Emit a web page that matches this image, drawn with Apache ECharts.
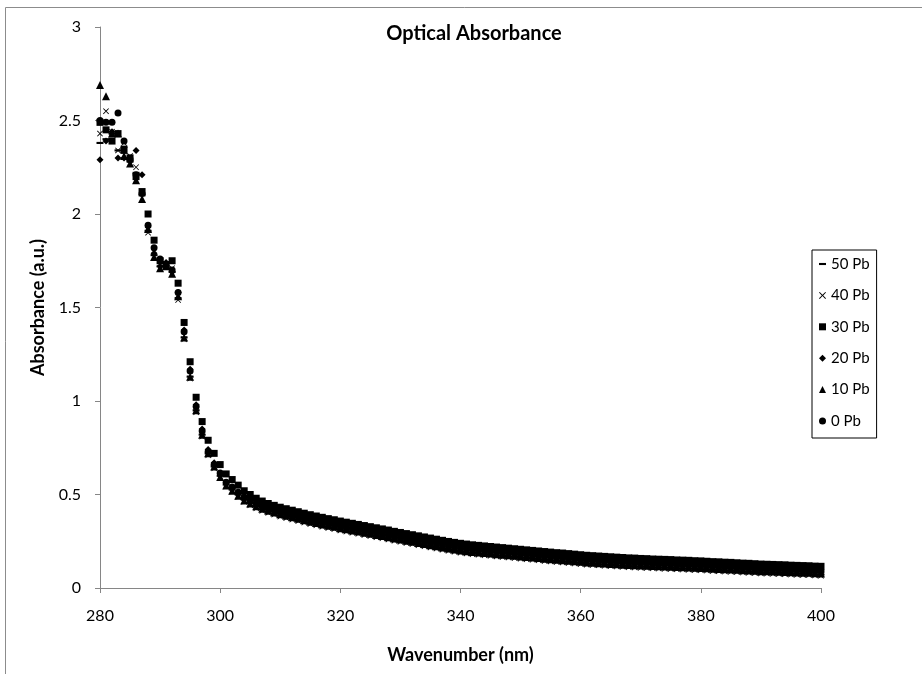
<!DOCTYPE html>
<html>
<head>
<meta charset="utf-8">
<script src="https://cdn.jsdelivr.net/npm/echarts@6/dist/echarts.min.js"></script>
<style>
  html, body { margin: 0; padding: 0; background: #fff; }
  #chart { width: 922px; height: 674px; }
</style>
</head>
<body>
<div id="chart"></div>
<script>
// Wavelength (nm), one reading per nm
const wavelength = [
  280, 281, 282, 283, 284, 285, 286, 287, 288, 289, 290, 291, 292, 293, 294, 295, 296, 297, 298, 299,
  300, 301, 302, 303, 304, 305, 306, 307, 308, 309, 310, 311, 312, 313, 314, 315, 316, 317, 318, 319,
  320, 321, 322, 323, 324, 325, 326, 327, 328, 329, 330, 331, 332, 333, 334, 335, 336, 337, 338, 339,
  340, 341, 342, 343, 344, 345, 346, 347, 348, 349, 350, 351, 352, 353, 354, 355, 356, 357, 358, 359,
  360, 361, 362, 363, 364, 365, 366, 367, 368, 369, 370, 371, 372, 373, 374, 375, 376, 377, 378, 379,
  380, 381, 382, 383, 384, 385, 386, 387, 388, 389, 390, 391, 392, 393, 394, 395, 396, 397, 398, 399,
  400
];

// Absorbance per sample
const pb50 = [
  2.38, 2.40, 2.43, 2.34, 2.36, 2.28, 2.22, 2.10, 1.91, 1.78, 1.72, 1.71, 1.69, 1.55, 1.34, 1.13, 0.95, 0.82, 0.72, 0.65,
  0.600, 0.553, 0.526, 0.499, 0.472, 0.455, 0.436, 0.421, 0.408, 0.398, 0.388, 0.380, 0.372, 0.364, 0.356, 0.348, 0.341, 0.334, 0.327, 0.321,
  0.314, 0.308, 0.302, 0.296, 0.290, 0.284, 0.278, 0.272, 0.266, 0.259, 0.253, 0.247, 0.241, 0.235, 0.229, 0.223, 0.217, 0.211, 0.205, 0.200,
  0.195, 0.191, 0.187, 0.184, 0.181, 0.178, 0.175, 0.172, 0.169, 0.166, 0.163, 0.160, 0.157, 0.154, 0.151, 0.148, 0.145, 0.143, 0.140, 0.137,
  0.134, 0.131, 0.129, 0.127, 0.125, 0.123, 0.121, 0.119, 0.117, 0.116, 0.114, 0.113, 0.111, 0.110, 0.109, 0.108, 0.106, 0.105, 0.104, 0.102,
  0.101, 0.099, 0.097, 0.096, 0.094, 0.093, 0.091, 0.089, 0.088, 0.086, 0.084, 0.083, 0.082, 0.081, 0.080, 0.078, 0.077, 0.076, 0.075, 0.073,
  0.072
];
const pb40 = [
  2.43, 2.55, 2.44, 2.34, 2.38, 2.31, 2.25, 2.12, 1.90, 1.80, 1.75, 1.73, 1.71, 1.54, 1.33, 1.12, 0.94, 0.81, 0.71, 0.64,
  0.588, 0.543, 0.515, 0.487, 0.461, 0.443, 0.426, 0.413, 0.402, 0.393, 0.382, 0.374, 0.366, 0.358, 0.350, 0.342, 0.335, 0.328, 0.321, 0.315,
  0.308, 0.302, 0.296, 0.290, 0.284, 0.278, 0.272, 0.266, 0.260, 0.253, 0.247, 0.241, 0.235, 0.229, 0.223, 0.217, 0.211, 0.205, 0.199, 0.194,
  0.189, 0.185, 0.181, 0.178, 0.175, 0.172, 0.169, 0.166, 0.163, 0.160, 0.157, 0.154, 0.151, 0.148, 0.145, 0.142, 0.139, 0.137, 0.134, 0.131,
  0.128, 0.125, 0.123, 0.121, 0.119, 0.117, 0.115, 0.113, 0.111, 0.110, 0.108, 0.107, 0.105, 0.104, 0.103, 0.102, 0.100, 0.099, 0.098, 0.096,
  0.095, 0.093, 0.091, 0.090, 0.088, 0.087, 0.085, 0.083, 0.082, 0.080, 0.078, 0.077, 0.076, 0.075, 0.074, 0.072, 0.071, 0.070, 0.069, 0.067,
  0.066
];
const pb30 = [
  2.49, 2.45, 2.39, 2.43, 2.34, 2.30, 2.20, 2.12, 2.00, 1.86, 1.75, 1.73, 1.75, 1.63, 1.42, 1.21, 1.02, 0.89, 0.79, 0.72,
  0.660, 0.610, 0.580, 0.550, 0.520, 0.500, 0.480, 0.465, 0.452, 0.442, 0.432, 0.424, 0.416, 0.408, 0.400, 0.392, 0.385, 0.378, 0.371, 0.365,
  0.358, 0.352, 0.346, 0.340, 0.334, 0.328, 0.322, 0.316, 0.310, 0.303, 0.297, 0.291, 0.285, 0.279, 0.273, 0.267, 0.261, 0.255, 0.249, 0.244,
  0.239, 0.235, 0.231, 0.228, 0.225, 0.222, 0.219, 0.216, 0.213, 0.210, 0.207, 0.204, 0.201, 0.198, 0.195, 0.192, 0.189, 0.187, 0.184, 0.181,
  0.178, 0.175, 0.173, 0.171, 0.169, 0.167, 0.165, 0.163, 0.161, 0.160, 0.158, 0.157, 0.155, 0.154, 0.153, 0.152, 0.150, 0.149, 0.148, 0.146,
  0.145, 0.143, 0.141, 0.140, 0.138, 0.137, 0.135, 0.133, 0.132, 0.130, 0.128, 0.127, 0.126, 0.125, 0.124, 0.122, 0.121, 0.120, 0.119, 0.117,
  0.116
];
const pb20 = [
  2.29, 2.39, 2.44, 2.30, 2.30, 2.30, 2.34, 2.21, 1.93, 1.79, 1.72, 1.74, 1.69, 1.58, 1.38, 1.17, 0.98, 0.85, 0.74, 0.67,
  0.612, 0.562, 0.533, 0.505, 0.478, 0.462, 0.445, 0.432, 0.420, 0.410, 0.400, 0.392, 0.384, 0.376, 0.368, 0.360, 0.353, 0.346, 0.339, 0.333,
  0.326, 0.320, 0.314, 0.308, 0.302, 0.296, 0.290, 0.284, 0.278, 0.271, 0.265, 0.259, 0.253, 0.247, 0.241, 0.235, 0.229, 0.223, 0.217, 0.212,
  0.207, 0.203, 0.199, 0.196, 0.193, 0.190, 0.187, 0.184, 0.181, 0.178, 0.175, 0.172, 0.169, 0.166, 0.163, 0.160, 0.157, 0.155, 0.152, 0.149,
  0.146, 0.143, 0.141, 0.139, 0.137, 0.135, 0.133, 0.131, 0.129, 0.128, 0.126, 0.125, 0.123, 0.122, 0.121, 0.120, 0.118, 0.117, 0.116, 0.114,
  0.113, 0.111, 0.109, 0.108, 0.106, 0.105, 0.103, 0.101, 0.100, 0.098, 0.096, 0.095, 0.094, 0.093, 0.092, 0.090, 0.089, 0.088, 0.087, 0.085,
  0.084
];
const pb10 = [
  2.69, 2.63, 2.43, 2.43, 2.31, 2.27, 2.18, 2.08, 1.92, 1.77, 1.71, 1.72, 1.68, 1.56, 1.34, 1.13, 0.95, 0.82, 0.72, 0.65,
  0.594, 0.548, 0.520, 0.493, 0.468, 0.452, 0.437, 0.424, 0.413, 0.404, 0.394, 0.386, 0.378, 0.370, 0.362, 0.354, 0.347, 0.340, 0.333, 0.327,
  0.320, 0.314, 0.308, 0.302, 0.296, 0.290, 0.284, 0.278, 0.272, 0.265, 0.259, 0.253, 0.247, 0.241, 0.235, 0.229, 0.223, 0.217, 0.211, 0.206,
  0.201, 0.197, 0.193, 0.190, 0.187, 0.184, 0.181, 0.178, 0.175, 0.172, 0.169, 0.166, 0.163, 0.160, 0.157, 0.154, 0.151, 0.149, 0.146, 0.143,
  0.140, 0.137, 0.135, 0.133, 0.131, 0.129, 0.127, 0.125, 0.123, 0.122, 0.120, 0.119, 0.117, 0.116, 0.115, 0.114, 0.112, 0.111, 0.110, 0.108,
  0.107, 0.105, 0.103, 0.102, 0.100, 0.099, 0.097, 0.095, 0.094, 0.092, 0.090, 0.089, 0.088, 0.087, 0.086, 0.084, 0.083, 0.082, 0.081, 0.079,
  0.078
];
const pb0 = [
  2.50, 2.49, 2.49, 2.54, 2.39, 2.29, 2.21, 2.11, 1.94, 1.82, 1.76, 1.72, 1.70, 1.58, 1.37, 1.16, 0.97, 0.84, 0.73, 0.66,
  0.615, 0.566, 0.540, 0.512, 0.486, 0.470, 0.452, 0.438, 0.426, 0.417, 0.407, 0.399, 0.391, 0.383, 0.375, 0.367, 0.360, 0.353, 0.346, 0.340,
  0.333, 0.327, 0.321, 0.315, 0.309, 0.303, 0.297, 0.291, 0.285, 0.278, 0.272, 0.266, 0.260, 0.254, 0.248, 0.242, 0.236, 0.230, 0.224, 0.219,
  0.214, 0.210, 0.206, 0.203, 0.200, 0.197, 0.194, 0.191, 0.188, 0.185, 0.182, 0.179, 0.176, 0.173, 0.170, 0.167, 0.164, 0.162, 0.159, 0.156,
  0.153, 0.150, 0.148, 0.146, 0.144, 0.142, 0.140, 0.138, 0.136, 0.135, 0.133, 0.132, 0.130, 0.129, 0.128, 0.127, 0.125, 0.124, 0.123, 0.121,
  0.120, 0.118, 0.116, 0.115, 0.113, 0.112, 0.110, 0.108, 0.107, 0.105, 0.103, 0.102, 0.101, 0.100, 0.099, 0.097, 0.096, 0.095, 0.094, 0.092,
  0.091
];

const seriesNames = ["50 Pb", "40 Pb", "30 Pb", "20 Pb", "10 Pb", "0 Pb"];
const seriesValues = [pb50, pb40, pb30, pb20, pb10, pb0];

// marker shapes (the M0,0M10,10 moves keep a square box so legend icons keep their shape)
const DASH = "path://M0,0M10,10M0,3.5L10,3.5L10,6.5L0,6.5Z";
const CROSS = "path://M0,1L1,0L5,4L9,0L10,1L6,5L10,9L9,10L5,6L1,10L0,9L4,5Z";
const symbols = [DASH, CROSS, "rect", "diamond", "triangle", "circle"];
const sizes = [7, 6, 7, 7, 8, 7];

const FONT = "Lato, 'Noto Sans', sans-serif";
const axisGray = "#868686";

const chart = echarts.init(document.getElementById("chart"));

chart.setOption({
  animation: false,
  backgroundColor: "#fff",
  textStyle: { fontFamily: FONT },
  title: {
    text: "Optical Absorbance",
    left: 469,
    top: 19,
    textAlign: "center",
    textStyle: { fontFamily: FONT, fontSize: 20, fontWeight: "bold", color: "#000" }
  },
  legend: {
    orient: "vertical",
    left: 812,
    top: 250,
    padding: [5, 7, 8, 7],
    itemWidth: 7,
    itemHeight: 7,
    itemGap: 13.4,
    itemTextGap: 6,
    borderColor: "#000",
    borderWidth: 1,
    selectedMode: false,
    textStyle: { fontFamily: FONT, fontSize: 15, lineHeight: 18, color: "#000" },
    data: seriesNames
  },
  grid: { left: 100, right: 101, top: 27, bottom: 86, outerBoundsMode: "none" },
  xAxis: {
    type: "value",
    min: 280,
    max: 400,
    interval: 20,
    name: "Wavenumber (nm)",
    nameLocation: "middle",
    nameGap: 58,
    nameTextStyle: { fontFamily: FONT, fontSize: 18, fontWeight: "bold", color: "#000" },
    axisLine: { lineStyle: { color: axisGray } },
    axisTick: { show: true, length: 5, lineStyle: { color: axisGray } },
    axisLabel: { margin: 20, fontSize: 16, color: "#000", fontFamily: FONT },
    splitLine: { show: false }
  },
  yAxis: {
    type: "value",
    min: 0,
    max: 3,
    interval: 0.5,
    name: "Absorbance (a.u.)",
    nameLocation: "middle",
    nameGap: 53,
    nameTextStyle: { fontFamily: FONT, fontSize: 18, fontWeight: "bold", color: "#000" },
    axisLine: { show: true, lineStyle: { color: axisGray } },
    axisTick: { show: true, length: 5, lineStyle: { color: axisGray } },
    axisLabel: { margin: 19, fontSize: 16, color: "#000", fontFamily: FONT },
    splitLine: { show: false }
  },
  graphic: [{
    type: "rect",
    silent: true,
    z: -10,
    shape: { x: 5.5, y: 7.5, width: 2000, height: 2000 },
    style: { fill: "none", stroke: "#8c8c8c", lineWidth: 1 }
  }],
  series: seriesNames.map((name, i) => ({
    name: name,
    type: "scatter",
    silent: true,
    symbol: symbols[i],
    symbolSize: sizes[i],
    itemStyle: { color: "#000", opacity: 1 },
    data: wavelength.map((w, j) => [w, seriesValues[i][j]])
  }))
});
</script>
</body>
</html>
